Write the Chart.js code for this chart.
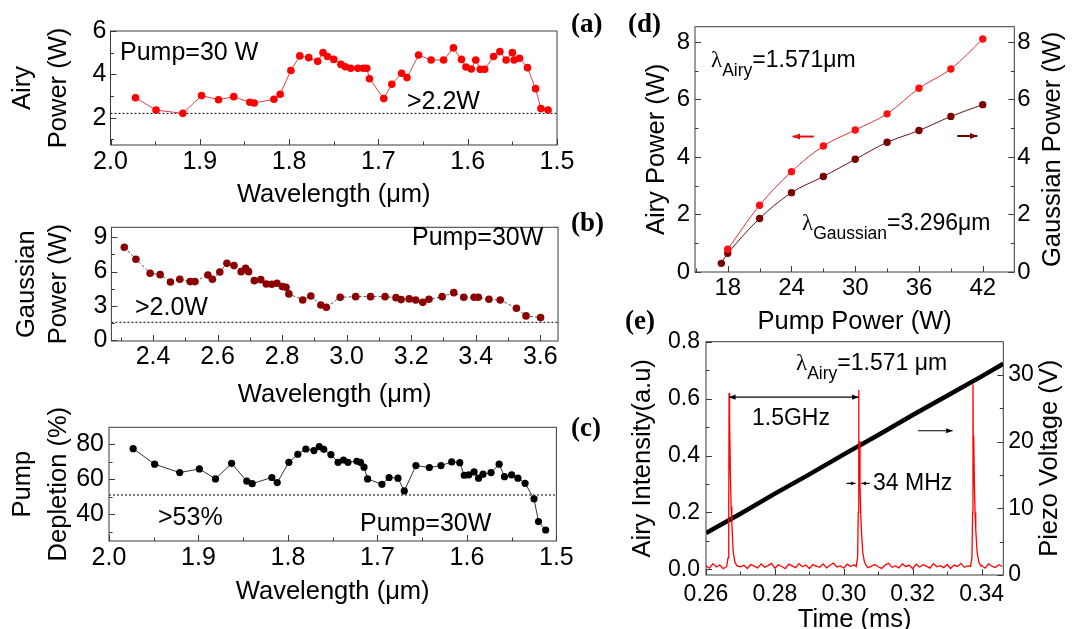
<!DOCTYPE html>
<html>
<head>
<meta charset="utf-8">
<script src="https://cdn.jsdelivr.net/npm/chart.js@4"></script>
<style>
  body { margin: 0; background: #fff; width: 1077px; height: 629px; position: relative; overflow: hidden;
         font-family: 'Liberation Sans', Arial, sans-serif; }
  canvas { position: absolute; }
  .t { position: absolute; font-size: 25px; line-height: 1; white-space: nowrap; color: #000; }
  .s { font-size: 23px; }
  .sub { position: relative; font-size: 17.5px; top: 9px; }
  .lam { font-family: 'Liberation Serif', serif; }
  .p { position: absolute; font-family: 'Liberation Serif', 'Times New Roman', serif; font-weight: bold;
       font-size: 27px; line-height: 1; }
</style>
</head>
<body>
<canvas id="ca" width="580" height="210" style="left:0;top:0"></canvas>
<canvas id="cb" width="580" height="210" style="left:0;top:200px"></canvas>
<canvas id="cc" width="580" height="210" style="left:0;top:400px"></canvas>
<canvas id="cd" width="477" height="340" style="left:600px;top:0"></canvas>
<canvas id="ce" width="477" height="309" style="left:600px;top:320px"></canvas>

<div class="t" style="left:120px;top:39px">Pump=30 W</div>
<div class="t" style="left:407px;top:88px">&gt;2.2W</div>
<div class="t" style="left:412px;top:224px">Pump=30W</div>
<div class="t" style="left:135px;top:294px">&gt;2.0W</div>
<div class="t" style="left:158px;top:504px">&gt;53%</div>
<div class="t" style="left:360px;top:510px">Pump=30W</div>

<div class="t s" style="left:711px;top:48px"><span class="lam">λ</span><span class="sub">Airy</span>=1.571μm</div>
<div class="t s" style="left:802px;top:211px"><span class="lam">λ</span><span class="sub">Gaussian</span>=3.296μm</div>
<div class="t s" style="left:796px;top:351px"><span class="lam">λ</span><span class="sub">Airy</span>=1.571 μm</div>
<div class="t s" style="left:752px;top:406px">1.5GHz</div>
<div class="t s" style="left:873px;top:471px">34 MHz</div>

<div class="p" style="left:571px;top:10px">(a)</div>
<div class="p" style="left:571px;top:209px">(b)</div>
<div class="p" style="left:571px;top:414px">(c)</div>
<div class="p" style="left:628px;top:10px">(d)</div>
<div class="p" style="left:625px;top:307px">(e)</div>

<script>
// (a) Airy power vs wavelength at 30 W pump
const airyWl = [1.972,1.949,1.919,1.898,1.879,1.862,1.844,1.839,1.817,1.810,1.798,1.788,1.778,1.768,1.762,1.757,
  1.750,1.742,1.737,1.731,1.723,1.717,1.713,1.710,1.694,1.685,1.674,1.668,1.655,1.641,1.627,1.616,1.607,1.602,
  1.596,1.591,1.586,1.581,1.571,1.564,1.557,1.550,1.548,1.542,1.533,1.524,1.518,1.510];
const airyPow = [2.92,2.35,2.20,3.02,2.83,2.97,2.71,2.68,2.85,3.08,4.18,4.85,4.77,4.60,5.00,4.82,
  4.69,4.46,4.35,4.28,4.28,4.28,4.28,3.80,2.88,3.54,4.05,3.85,4.89,4.66,4.66,5.22,4.69,4.34,
  4.25,4.66,4.23,4.23,4.82,5.05,4.66,5.00,4.66,4.74,4.31,3.34,2.42,2.35];
const airyFloor = 2.2;

// (b) Gaussian power vs wavelength
const gaussWl = [2.311,2.347,2.391,2.422,2.454,2.483,2.515,2.530,2.570,2.584,2.607,2.629,2.651,2.673,2.687,2.696,
  2.714,2.734,2.751,2.768,2.784,2.801,2.812,2.821,2.864,2.889,2.920,2.937,2.980,3.028,3.074,3.119,3.153,3.169,
  3.194,3.214,3.236,3.255,3.296,3.332,3.363,3.395,3.408,3.441,3.476,3.526,3.556,3.601];
const gaussPow = [8.13,7.08,5.85,5.73,5.09,5.32,5.12,5.12,5.70,5.32,5.96,6.72,6.52,5.99,6.29,5.99,
  5.20,5.29,4.91,4.88,4.97,4.68,4.62,4.04,3.51,3.86,3.07,2.87,3.74,3.80,3.80,3.80,3.71,3.54,
  3.60,3.51,3.30,3.57,3.80,4.15,3.74,3.74,3.74,3.57,3.51,2.78,2.11,1.96];
const gaussFloor = 1.55;

// (c) pump depletion vs wavelength
const deplWl = [1.973,1.949,1.921,1.899,1.881,1.863,1.846,1.840,1.818,1.812,1.799,1.789,1.780,1.771,1.765,1.760,
  1.752,1.744,1.738,1.733,1.723,1.719,1.715,1.711,1.695,1.687,1.677,1.670,1.657,1.642,1.629,1.617,1.608,1.603,
  1.598,1.592,1.587,1.582,1.573,1.564,1.558,1.550,1.543,1.535,1.525,1.520,1.512];
const deplPct = [77.5,68.6,63.8,65.9,60.2,69.1,58.9,57.5,61.0,58.1,69.7,74.3,77.3,76.4,78.7,77.1,
  74.1,69.7,71.0,69.7,70.3,69.7,66.9,60.2,57.1,61.0,60.6,53.3,67.8,66.7,67.8,69.9,69.5,62.3,
  62.5,64.2,60.6,62.9,63.8,68.6,61.5,62.5,60.6,57.7,48.8,35.8,31.0];
const deplFloor = 51;

// (d) output power vs pump power
const pumpAiry = [18, 21, 24, 27, 30, 33, 36, 39, 42];
const airyVsPump = [0.79, 2.32, 3.49, 4.38, 4.94, 5.50, 6.39, 7.06, 8.10];
const pumpGauss = [17.4, 18, 21, 24, 27, 30, 33, 36, 39, 42];
const gaussVsPump = [0.30, 0.65, 1.86, 2.76, 3.32, 3.92, 4.51, 4.92, 5.41, 5.82];

// (e) scanning Fabry-Perot trace
const scanStart = 0.260, scanStep = 0.001;
const baseNoise = [0.012,0.004,0.020,0.008,0.015,0.002,0.018,0.010,0.006,0.022,
  0.009,0.014,0.003,0.017,0.011,0.005,0.019,0.007,0.013,0.021,
  0.004,0.016,0.010,0.002,0.018,0.012,0.006,0.020,0.009,0.015,
  0.003,0.017,0.011,0.007,0.019,0.005,0.014,0.022,0.008,0.012,
  0.004,0.018,0.010,0.016,0.002,0.013,0.020,0.006,0.011,0.017,
  0.009,0.003,0.015,0.021,0.007,0.012,0.005,0.019,0.010,0.014,
  0.002,0.018,0.008,0.016,0.011,0.004,0.020,0.009,0.013,0.006,
  0.017,0.003,0.015,0.010,0.021,0.007,0.012,0.005,0.018,0.009,
  0.014,0.004,0.019,0.011,0.006,0.016,0.010];
const peakTimes = [
  [0.2660,0.2664,0.2666,0.2667,0.2668,0.2669,0.2671,0.2673,0.2675,0.2679,0.2684,0.2690],
  [0.3036,0.3040,0.3042,0.3043,0.3044,0.3045,0.3047,0.3049,0.3051,0.3055,0.3060,0.3066],
  [0.3368,0.3372,0.3374,0.3375,0.3376,0.3377,0.3379,0.3381,0.3383,0.3387,0.3392,0.3398]];
const peakVals = [
  [0.010,0.040,0.200,0.620,0.350,0.520,0.320,0.220,0.160,0.060,0.025,0.012],
  [0.010,0.040,0.200,0.630,0.380,0.450,0.300,0.200,0.140,0.060,0.025,0.012],
  [0.010,0.040,0.200,0.650,0.360,0.470,0.300,0.200,0.140,0.060,0.025,0.012]];
const rampTime = [0.260, 0.270, 0.280, 0.290, 0.300, 0.310, 0.320, 0.330, 0.340, 0.3463];
const rampVolt = [6.3, 9.2, 12.2, 15.1, 18.1, 21.0, 24.0, 26.9, 29.8, 31.7];

// tick labels
const ticksWl = [2.0, 1.9, 1.8, 1.7, 1.6, 1.5];
const ticksAiryA = [2, 4, 6];
const ticksWlB = [2.4, 2.6, 2.8, 3.0, 3.2, 3.4, 3.6];
const ticksGaussB = [0, 3, 6, 9];
const ticksDeplC = [40, 60, 80];
const ticksPump = [18, 24, 30, 36, 42];
const ticksPowD = [0, 2, 4, 6, 8];
const ticksTime = [0.26, 0.28, 0.30, 0.32, 0.34];
const ticksInt = [0.0, 0.2, 0.4, 0.6, 0.8];
const ticksVolt = [0, 10, 20, 30];

Chart.defaults.font.family = "'Liberation Sans', Arial, sans-serif";
Chart.defaults.color = '#000';

const pts = (xs, ys) => xs.map((x, i) => ({ x, y: ys[i] }));

// box around the plot and inward major/minor ticks
const frameTicks = {
  id: 'frameTicks',
  afterDraw(chart) {
    const { ctx, chartArea: a } = chart;
    ctx.save();
    ctx.strokeStyle = '#3a3a3a';
    ctx.lineWidth = 1;
    ctx.strokeRect(a.left, a.top, a.right - a.left, a.bottom - a.top);
    Object.values(chart.scales).forEach(s => {
      const vals = s.ticks.map(t => t.value);
      const step = vals[1] - vals[0];
      const lo = Math.min(s.min, s.max), hi = Math.max(s.min, s.max);
      const marks = vals.map(v => [v, 6]);
      for (let i = -1; i < vals.length; i++) {
        const m = vals[0] + step * (i + 0.5);
        if (m > lo && m < hi) marks.push([m, 3.5]);
      }
      ctx.beginPath();
      marks.forEach(([v, len]) => {
        const p = Math.round(s.getPixelForValue(v)) + 0.5;
        if (s.axis === 'x') { ctx.moveTo(p, a.bottom); ctx.lineTo(p, a.bottom - len); }
        else if (s.position === 'left') { ctx.moveTo(a.left, p); ctx.lineTo(a.left + len, p); }
        else { ctx.moveTo(a.right, p); ctx.lineTo(a.right - len, p); }
      });
      ctx.stroke();
    });
    ctx.restore();
  }
};

// arrows (data coordinates) and a right-hand title read bottom-to-top
function extras(arrowList, sideTitle) {
  return {
    id: 'extras',
    afterDatasetsDraw(chart) {
      const { ctx, chartArea: a } = chart;
      ctx.save();
      (arrowList || []).forEach(ar => {
        const xs = chart.scales.x, ys = chart.scales[ar.axis || 'y'];
        const x1 = xs.getPixelForValue(ar.from[0]), y1 = ys.getPixelForValue(ar.from[1]);
        const x2 = xs.getPixelForValue(ar.to[0]), y2 = ys.getPixelForValue(ar.to[1]);
        ctx.strokeStyle = ar.color; ctx.fillStyle = ar.color; ctx.lineWidth = ar.width || 1.2;
        ctx.beginPath(); ctx.moveTo(x1, y1); ctx.lineTo(x2, y2); ctx.stroke();
        const tip = (xa, ya, xb, yb) => {
          const ang = Math.atan2(yb - ya, xb - xa), h = ar.head || 7;
          ctx.beginPath();
          ctx.moveTo(xb, yb);
          ctx.lineTo(xb - h * Math.cos(ang - 0.38), yb - h * Math.sin(ang - 0.38));
          ctx.lineTo(xb - h * Math.cos(ang + 0.38), yb - h * Math.sin(ang + 0.38));
          ctx.closePath(); ctx.fill();
        };
        tip(x1, y1, x2, y2);
        if (ar.both) tip(x2, y2, x1, y1);
      });
      if (sideTitle) {
        ctx.translate(sideTitle.x, (a.top + a.bottom) / 2);
        ctx.rotate(-Math.PI / 2);
        ctx.font = "25.5px 'Liberation Sans', Arial, sans-serif";
        ctx.fillStyle = '#000'; ctx.textAlign = 'center'; ctx.textBaseline = 'middle';
        ctx.fillText(sideTitle.text, 0, 0);
      }
      ctx.restore();
    }
  };
}

function axis(o, horizontal, tickSize) {
  const ax = {
    type: 'linear', min: o.min, max: o.max, reverse: !!o.reverse,
    afterBuildTicks: s => { s.ticks = o.ticks.map(v => ({ value: v })); },
    afterFit: s => { if (horizontal) s.height = o.size; else s.width = o.size; },
    grid: { display: false, drawTicks: false },
    border: { display: false },
    ticks: { autoSkip: false, maxRotation: 0, padding: o.pad, font: { size: tickSize, lineHeight: 1.2 },
             callback: v => v.toFixed(o.dec) },
    title: { display: !!o.title, text: o.title, font: { size: 25.5, lineHeight: o.lh || 1.2 },
             padding: horizontal ? { top: 0, bottom: o.tp } : { top: o.tp, bottom: 0 } }
  };
  if (o.position) ax.position = o.position;
  return ax;
}

function panel(id, o) {
  const scales = { x: axis(o.x, true, o.tickSize), y: axis(o.y, false, o.tickSize) };
  if (o.y2) scales.y2 = axis(Object.assign({ position: 'right' }, o.y2), false, o.tickSize);
  return new Chart(document.getElementById(id), {
    type: 'scatter',
    data: { datasets: o.datasets },
    options: {
      responsive: false, animation: false, devicePixelRatio: 1,
      layout: { padding: { left: 0, top: o.top, right: o.right, bottom: 0 } },
      plugins: { legend: { display: false }, tooltip: { enabled: false } },
      scales
    },
    plugins: [frameTicks, extras(o.arrows, o.sideTitle)]
  });
}

const floorLine = (x0, x1, y) => ({
  data: [{ x: x0, y }, { x: x1, y }], showLine: true, borderColor: '#000', borderWidth: 1,
  borderDash: [2, 2], pointRadius: 0
});

// (a)
panel('ca', {
  top: 31, right: 23, tickSize: 25,
  x: { min: 1.5, max: 2.0, reverse: true, ticks: ticksWl, dec: 1, size: 65, pad: 1.7,
       title: 'Wavelength (μm)', lh: 1.1, tp: 1 },
  y: { min: 0.74, max: 6, ticks: ticksAiryA, dec: 0, size: 110.5, pad: 4,
       title: ['Airy', 'Power (W)'], lh: 1.4, tp: 5.3 },
  datasets: [
    { data: pts(airyWl, airyPow), showLine: true, borderColor: '#e04040', borderWidth: 1,
      pointRadius: 3.8, pointBackgroundColor: '#ff0000', pointBorderWidth: 0 },
    floorLine(2.0, 1.5, airyFloor)
  ]
});

// (b)
panel('cb', {
  top: 27.3, right: 22, tickSize: 25,
  x: { min: 2.271, max: 3.655, ticks: ticksWlB, dec: 1, size: 69, pad: 0.7,
       title: 'Wavelength (μm)', lh: 1.1, tp: 1 },
  y: { min: -0.09, max: 9.88, ticks: ticksGaussB, dec: 0, size: 111.4, pad: 4,
       title: ['Gaussian', 'Power (W)'], lh: 1.26, tp: 10.7 },
  datasets: [
    { data: pts(gaussWl, gaussPow), showLine: true, borderColor: '#555', borderWidth: 1, borderDash: [3, 2],
      pointRadius: 3.8, pointBackgroundColor: '#8b0000', pointBorderWidth: 0 },
    floorLine(2.271, 3.655, gaussFloor)
  ]
});

// (c)
panel('cc', {
  top: 27.3, right: 23.6, tickSize: 25,
  x: { min: 1.5, max: 2.0, reverse: true, ticks: ticksWl, dec: 1, size: 69, pad: 2.3,
       title: 'Wavelength (μm)', lh: 1.1, tp: 4.3 },
  y: { min: 24.7, max: 89.7, ticks: ticksDeplC, dec: 0, size: 109, pad: 5,
       title: ['Pump', 'Depletion (%)'], lh: 1.4, tp: 5.3 },
  datasets: [
    { data: pts(deplWl, deplPct), showLine: true, borderColor: '#333', borderWidth: 1,
      pointRadius: 3.6, pointBackgroundColor: '#000', pointBorderWidth: 0 },
    floorLine(2.0, 1.5, deplFloor)
  ]
});

// (d)
panel('cd', {
  top: 26.7, right: 0, tickSize: 24,
  x: { min: 14.92, max: 44.97, ticks: ticksPump, dec: 0, size: 68, pad: 1.9,
       title: 'Pump Power (W)', lh: 1.2, tp: 3 },
  y: { min: 0, max: 8.53, ticks: ticksPowD, dec: 0, size: 95, pad: 5,
       title: 'Airy Power (W)', lh: 1.2, tp: 41.4 },
  y2: { min: 0, max: 8.53, ticks: ticksPowD, dec: 0, size: 62.7, pad: 3 },
  sideTitle: { text: 'Gaussian Power (W)', x: 453.3 },
  arrows: [
    { from: [26.1, 4.71], to: [24.1, 4.71], color: '#e01010', width: 2, head: 8 },
    { from: [39.6, 4.73], to: [41.5, 4.73], color: '#7a0000', width: 2, head: 8 }
  ],
  datasets: [
    { data: pts(pumpAiry, airyVsPump), showLine: true, tension: 0.35, borderColor: '#e03030', borderWidth: 1,
      pointRadius: 3.7, pointBackgroundColor: '#ff1010', pointBorderWidth: 0 },
    { data: pts(pumpGauss, gaussVsPump), yAxisID: 'y2', showLine: true, tension: 0.35, borderColor: '#6a1010',
      borderWidth: 1, pointRadius: 3.7, pointBackgroundColor: '#7a0000', pointBorderWidth: 0 }
  ]
});

// (e)
const inPeak = t => peakTimes.some(p => t >= p[0] - 1e-9 && t <= p[p.length - 1] + 1e-9);
const airyTrace = baseNoise
  .map((v, i) => ({ x: +(scanStart + i * scanStep).toFixed(4), y: v }))
  .filter(p => !inPeak(p.x))
  .concat(...peakTimes.map((ts, k) => pts(ts, peakVals[k])))
  .sort((p, q) => p.x - q.x);

panel('ce', {
  top: 21.7, right: 0, tickSize: 23,
  x: { min: 0.26, max: 0.3463, ticks: ticksTime, dec: 2, size: 54, pad: 6,
       title: 'Time (ms)', lh: 1.0, tp: -4 },
  y: { min: -0.02, max: 0.8, ticks: ticksInt, dec: 1, size: 106, pad: 6,
       title: 'Airy Intensity(a.u)', lh: 1.2, tp: 27.7 },
  y2: { min: 0, max: 35, ticks: ticksVolt, dec: 0, size: 73.7, pad: 5 },
  sideTitle: { text: 'Piezo Voltage (V)', x: 450 },
  arrows: [
    { from: [0.2667, 0.605], to: [0.3043, 0.605], both: true, color: '#000' },
    { from: [0.3215, 0.487], to: [0.3316, 0.487], color: '#000' },
    { from: [0.3008, 0.302], to: [0.3034, 0.302], color: '#000', head: 5 },
    { from: [0.3075, 0.302], to: [0.3051, 0.302], color: '#000', head: 5 }
  ],
  datasets: [
    { data: airyTrace, showLine: true, borderColor: '#ff0000', borderWidth: 1.3, pointRadius: 0, order: 0 },
    { data: pts(rampTime, rampVolt), yAxisID: 'y2', showLine: true, borderColor: '#000', borderWidth: 4.5,
      pointRadius: 0, order: 1 }
  ]
});
</script>
</body>
</html>
